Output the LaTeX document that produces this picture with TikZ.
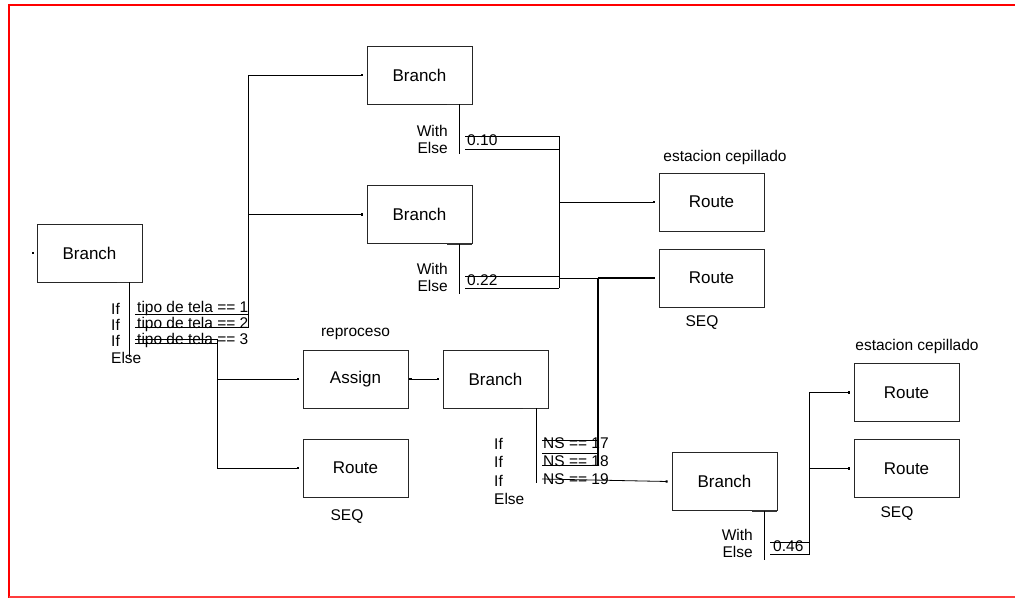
\documentclass[tikz,border=0pt]{standalone}
\usepackage{fontspec}
\setmainfont{Liberation Sans}
\usetikzlibrary{arrows.meta}
\definecolor{frame}{RGB}{255,0,0}
\definecolor{framelight}{RGB}{255,60,60}
\begin{document}
\begin{tikzpicture}[x=1pt,y=-1pt,
  box/.style={draw=black!85, line width=0.8pt, minimum width=105pt, minimum height=58pt, inner sep=0pt, font=\fontsize{17}{19}\selectfont},
  lbl/.style={font=\fontsize{15.5}{17}\selectfont, inner sep=0pt},
  wire/.style={line width=0.8pt},
  entry/.style={wire, -{Square[length=2pt,width=2.2pt]}},
  heavy/.style={line width=1.2pt, black!80},
  thick wire/.style={line width=1.1pt}]
\useasboundingbox (0,0) rectangle (1015,599);
% frame
\draw[frame, line width=2pt] (8,5) -- (1015,5);
\draw[frame, line width=2.4pt] (9,4) -- (9,598);
\draw[framelight, line width=1.8pt] (9,596.8) -- (1015,596.8);

% boxes
\node[box] (b1) at (89.5,253) {Branch};
\node[box] (b2) at (419.5,75) {Branch};
\node[box] (b3) at (419.5,214.5) {Branch};
\node[box] (r1) at (711.5,202) {Route};
\node[box] (r2) at (711.5,278) {Route};
\node[box] (as) at (355.5,379) {Assign};
\node[box] (r3) at (355.5,468) {Route};
\node[box] (b4) at (495.5,379) {Branch};
\node[box] (b5) at (724.5,481.5) {Branch};
\node[box] (r4) at (906.5,392.5) {Route};
\node[box] (r5) at (906.5,468.5) {Route};

% darker bottom-right segments of branch boxes
\foreach \b in {b1,b2,b3,b4,b5}{\draw[heavy] ([xshift=-25pt]\b.south east) -- (\b.south east);}

% labels above / below boxes
\node[lbl] (t1) at (725,157) {estacion cepillado};
\node[lbl] (t2) at (702,323) {SEQ};
\node[lbl] (t3) at (355.5,334) {reproceso};
\node[lbl] (t4) at (347,517) {SEQ};
\node[lbl] (t5) at (917,346) {estacion cepillado};
\node[lbl] (t6) at (897,514) {SEQ};

% entry dot of first branch
\fill ([xshift=-4pt]b1.west) ++(-1.1,-1.1) rectangle ++(2.2,2.2);

% ---- Branch b1 outputs
\draw[wire] ([xshift=39.5pt]b1.south) -- ++(0,75);
\node[lbl,anchor=west] (i1) at (111,308.5) {If};
\node[lbl,anchor=west] (i2) at (111,324.5) {If};
\node[lbl,anchor=west] (i3) at (111,340.5) {If};
\node[lbl,anchor=west] (i4) at (111,357.5) {Else};
\node[lbl,anchor=west] (c1) at (137,308.5) {tipo de tela == 1};
\node[lbl,anchor=west] (c2) at (137,324.5) {tipo de tela == 2};
\node[lbl,anchor=west] (c3) at (137,340.5) {tipo de tela == 3};
\coordinate (v1t) at (248,75);
\coordinate (v1b) at (248,327);
\draw[wire] (135,314) -- (248,314);
\draw[wire] (135,327) -- (v1b) -- (v1t);
\draw[entry] (v1t) -- ([xshift=-4pt]b2.west);
\draw[entry] (v1t |- b3.west) -- ([xshift=-4pt]b3.west);
\coordinate (v2t) at (217,339);
\coordinate (v2b) at (217,468);
\draw[wire] (135,339) -- (v2t) -- (v2b);
\draw[wire] (135,343.5) -- (217,343.5);
\draw[entry] (v2t |- as.west) -- ([xshift=-4pt]as.west);
\draw[entry] (v2b) -- ([xshift=-4pt]r3.west);

% ---- Branch b2 outputs
\draw[wire] ([xshift=39.5pt]b2.south) -- ++(0,50);
\node[lbl,anchor=east] (w1) at (448,131) {With};
\node[lbl,anchor=east] (e1) at (448,148) {Else};
\node[lbl,anchor=west] (p1) at (467,140) {0.10};
\coordinate (v3t) at (559,136);
\coordinate (v3b) at (559,288);
\draw[wire] (465,136) -- (v3t) -- (v3b);
\draw[wire] (465,149) -- (559,149);
\draw[entry] (v3t |- r1.west) -- ([xshift=-4pt]r1.west);

% ---- Branch b3 outputs
\draw[wire] ([xshift=39.5pt]b3.south) -- ++(0,50);
\node[lbl,anchor=east] (w2) at (448,269) {With};
\node[lbl,anchor=east] (e2) at (448,286) {Else};
\node[lbl,anchor=west] (p2) at (467,280) {0.22};
\draw[wire] (465,276) -- (559,276);
\draw[wire] (465,288) -- (v3b);
\draw[entry] (v3b |- r2.west) -- ([xshift=-4pt]r2.west);
\coordinate (v4t) at (598,278);
\coordinate (v4b) at (598,465);
\draw[thick wire] (v4t) -- ([xshift=-4pt]r2.west);
\draw[thick wire] (v4t) -- (v4b);

% ---- Assign -> Branch b4
\draw[{Square[length=2pt,width=2.2pt]}-{Square[length=2pt,width=2.2pt]}, wire] ([xshift=1pt]as.east) -- ([xshift=-4pt]b4.west);

% ---- Branch b4 outputs
\draw[wire] ([xshift=40.5pt]b4.south) -- ++(0,75);
\node[lbl,anchor=west] (i5) at (494,444) {If};
\node[lbl,anchor=west] (i6) at (494,462) {If};
\node[lbl,anchor=west] (i7) at (494,480.5) {If};
\node[lbl,anchor=west] (i8) at (494,499) {Else};
\node[lbl,anchor=west] (n1) at (543,443) {NS == 17};
\node[lbl,anchor=west] (n2) at (543,461) {NS == 18};
\node[lbl,anchor=west] (n3) at (543,479.5) {NS == 19};
\draw[wire] (542,440) -- (598,440);
\draw[wire] (542,453) -- (598,453);
\draw[wire] (542,465) -- (v4b);
\draw[entry] (542,479) -- ([xshift=-4pt]b5.west);

% ---- Branch b5 outputs
\draw[wire] ([xshift=39.5pt]b5.south) -- ++(0,49);
\node[lbl,anchor=east] (w3) at (753,535) {With};
\node[lbl,anchor=east] (e3) at (753,552) {Else};
\node[lbl,anchor=west] (p3) at (773,546) {0.46};
\coordinate (v5t) at (809,392.5);
\coordinate (v5b) at (809,554);
\draw[wire] (770,542) -- (809,542);
\draw[wire] (770,554) -- (v5b) -- (v5t);
\draw[entry] (v5t) -- ([xshift=-4pt]r4.west);
\draw[entry] (v5t |- r5.west) -- ([xshift=-4pt]r5.west);
\end{tikzpicture}
\end{document}
